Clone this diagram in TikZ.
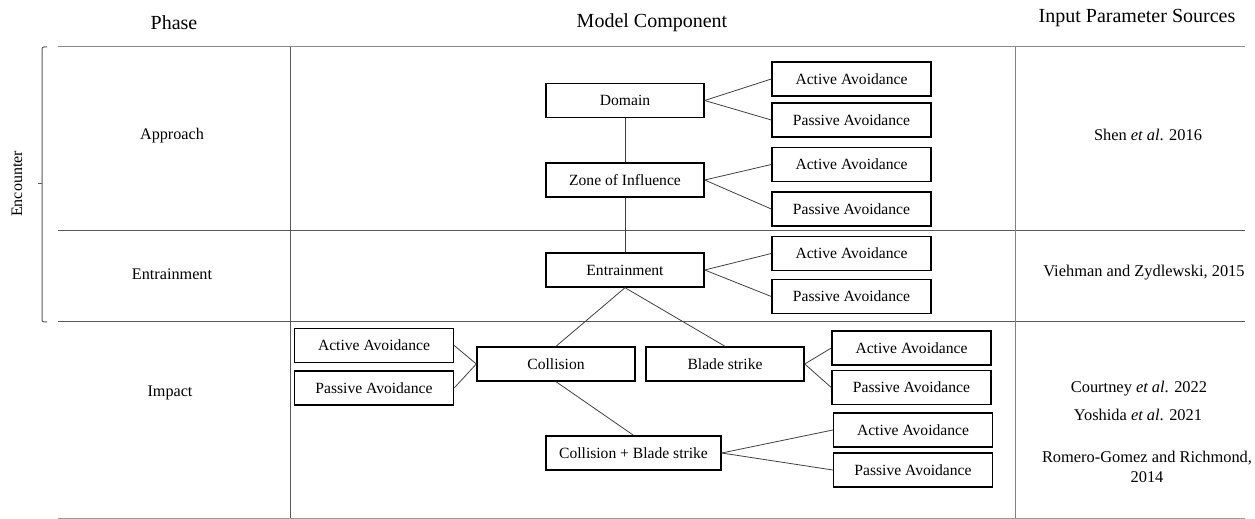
\documentclass[tikz,border=0pt]{standalone}
\usepackage{fontspec}
\setmainfont{Liberation Serif}
\tikzset{
  compbox/.style={draw, line width=0.7pt, minimum width=79pt, minimum height=17pt, inner sep=0pt},
  avoidbox/.style={draw, line width=0.7pt, minimum width=79.5pt, minimum height=17pt, inner sep=0pt},
  link/.style={black!75, line width=0.4pt},
  rule/.style={black!65, line width=0.5pt},
  head/.style={font=\fontsize{10}{12}\selectfont},
  srcnote/.style={font=\fontsize{8.2}{10}\selectfont}
}
\begin{document}
\begin{tikzpicture}[x=0.5pt, y=-0.5pt, font=\fontsize{7.8}{9.4}\selectfont]
      \useasboundingbox (0,0) rectangle (1255,519);

      % table
      \draw[rule, black!45] (58,47) -- (1245,47);
      \draw[rule] (58,231) -- (1245,231);
      \draw[rule] (58,322) -- (1245,322);
      \draw[rule, black!40] (58,518) -- (1245,518);
      \draw[rule] (290,47) -- (290,518);
      \draw[rule, black!50] (1015,47) -- (1015,518);

      % encounter bracket
      \draw[rule, rounded corners=1pt] (47,47) -- (42,47) -- (42,322) -- (47,322);
      \draw[rule] (42,184) -- (38,184);
      \node[rotate=90, font=\fontsize{8}{9.6}\selectfont] (encounter) at (17,184) {Encounter};

      % headers
      \node[head] (hphase) at (174,23) {Phase};
      \node[head] (hmodel) at (652,23) {Model Component};
      \node[head] (hsource) at (1137,18) {Input Parameter Sources};

      % phases
      \node[font=\fontsize{8.1}{9.7}\selectfont] (approach) at (172,136) {Approach};
      \node[font=\fontsize{8.1}{9.7}\selectfont] (entphase) at (172,274) {Entrainment};
      \node[font=\fontsize{8.1}{9.7}\selectfont] (impact) at (170,393) {Impact};

      % model components
      \node[compbox] (dom) at (625,100.5) {Domain};
      \node[compbox] (zoi) at (625,180) {Zone of Influence};
      \node[compbox] (ent) at (625,270) {Entrainment};
      \node[compbox] (col) at (556,364) {Collision};
      \node[compbox] (bla) at (725,364) {Blade strike};
      \node[compbox, minimum width=87.5pt] (cb) at (633.5,453) {Collision + Blade strike};

      \node[avoidbox] (domA) at (851.5,79) {Active Avoidance};
      \node[avoidbox] (domP) at (851.5,120) {Passive Avoidance};
      \node[avoidbox] (zoiA) at (851.5,164.5) {Active Avoidance};
      \node[avoidbox] (zoiP) at (851.5,209) {Passive Avoidance};
      \node[avoidbox] (entA) at (851.5,253.5) {Active Avoidance};
      \node[avoidbox] (entP) at (851.5,296.5) {Passive Avoidance};
      \node[avoidbox] (colA) at (374,345.5) {Active Avoidance};
      \node[avoidbox] (colP) at (374,388) {Passive Avoidance};
      \node[avoidbox] (blaA) at (911.5,348) {Active Avoidance};
      \node[avoidbox] (blaP) at (911.5,387.5) {Passive Avoidance};
      \node[avoidbox] (cbA) at (913,430) {Active Avoidance};
      \node[avoidbox] (cbP) at (913,470) {Passive Avoidance};

      % links
      \draw[link] (dom) -- (zoi);
      \draw[link] (zoi) -- (ent);
      \draw[link] (ent.south) -- (col.north);
      \draw[link] (ent.south) -- (bla.north);
      \draw[link] (col.south) -- (cb.north);

      \draw[link] (dom.east) -- (domA.west);
      \draw[link] (dom.east) -- (domP.west);
      \draw[link] (zoi.east) -- (zoiA.west);
      \draw[link] (zoi.east) -- (zoiP.west);
      \draw[link] (ent.east) -- (entA.west);
      \draw[link] (ent.east) -- (entP.west);
      \draw[link] (col.west) -- (colA.east);
      \draw[link] (col.west) -- (colP.east);
      \draw[link] (bla.east) -- (blaA.west);
      \draw[link] (bla.east) -- (blaP.west);
      \draw[link] (cb.east) -- (cbA.west);
      \draw[link] (cb.east) -- (cbP.west);

      % sources
      \node[srcnote] (shen) at (1148,135) {Shen \textit{et al}. 2016};
      \node[srcnote] (viehman) at (1144,273) {Viehman and Zydlewski, 2015};
      \node[srcnote] (courtney) at (1139,389) {Courtney \textit{et al}. 2022};
      \node[srcnote] (yoshida) at (1138,415) {Yoshida \textit{et al}. 2021};
      \node[srcnote, align=center] (romero) at (1147,467) {Romero-Gomez and Richmond,\\2014};
    \end{tikzpicture}
\end{document}
